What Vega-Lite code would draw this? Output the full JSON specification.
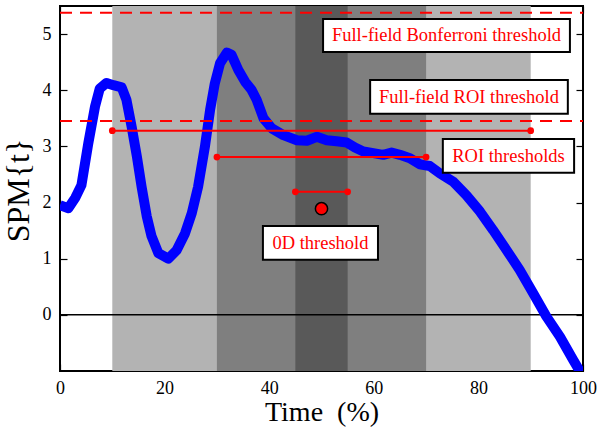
{
  "$schema": "https://vega.github.io/schema/vega-lite/v6.json",
  "width": 523,
  "height": 365,
  "autosize": "none",
  "padding": {"left": 60, "top": 6, "right": 17, "bottom": 68},
  "background": "white",
  "config": {
    "view": {"stroke": "black", "strokeWidth": 2},
    "font": "Liberation Serif",
    "axis": {
      "domain": false,
      "grid": false,
      "tickColor": "black",
      "tickSize": -7,
      "tickWidth": 1.2,
      "labelFont": "Liberation Serif",
      "labelFontSize": 18,
      "labelColor": "black",
      "titleFont": "Liberation Serif",
      "titleFontWeight": "normal",
      "titleColor": "black"
    }
  },
  "datasets": {
    "bands": [
      {"start": 10, "end": 90, "shade": "outer"},
      {"start": 30, "end": 70, "shade": "middle"},
      {"start": 45, "end": 55, "shade": "inner"}
    ],
    "curve": [
      {"time": 0, "spm": 1.95},
      {"time": 1.6, "spm": 1.9},
      {"time": 2.9, "spm": 2.08},
      {"time": 4.1, "spm": 2.31},
      {"time": 5.4, "spm": 3.05},
      {"time": 6.7, "spm": 3.71},
      {"time": 7.6, "spm": 4.03},
      {"time": 8.9, "spm": 4.13},
      {"time": 10.2, "spm": 4.09},
      {"time": 11.8, "spm": 4.05},
      {"time": 12.7, "spm": 3.83},
      {"time": 13.7, "spm": 3.35},
      {"time": 14.7, "spm": 2.82},
      {"time": 15.6, "spm": 2.28},
      {"time": 16.6, "spm": 1.75},
      {"time": 17.5, "spm": 1.4},
      {"time": 18.8, "spm": 1.1},
      {"time": 20.7, "spm": 1.0},
      {"time": 22.3, "spm": 1.15},
      {"time": 23.9, "spm": 1.45},
      {"time": 25.2, "spm": 1.81},
      {"time": 26.4, "spm": 2.28},
      {"time": 27.7, "spm": 2.99},
      {"time": 28.7, "spm": 3.65},
      {"time": 29.6, "spm": 4.12},
      {"time": 30.6, "spm": 4.48},
      {"time": 31.9, "spm": 4.67},
      {"time": 32.8, "spm": 4.63},
      {"time": 34.1, "spm": 4.36},
      {"time": 35.4, "spm": 4.15},
      {"time": 36.6, "spm": 4.01},
      {"time": 37.6, "spm": 3.83},
      {"time": 38.9, "spm": 3.5},
      {"time": 40.5, "spm": 3.32},
      {"time": 42.7, "spm": 3.2},
      {"time": 45.3, "spm": 3.11},
      {"time": 47.2, "spm": 3.1},
      {"time": 49.1, "spm": 3.17},
      {"time": 51.0, "spm": 3.11},
      {"time": 52.9, "spm": 3.09},
      {"time": 54.8, "spm": 3.07},
      {"time": 56.4, "spm": 2.98},
      {"time": 58.0, "spm": 2.91},
      {"time": 59.9, "spm": 2.88},
      {"time": 61.8, "spm": 2.85},
      {"time": 63.4, "spm": 2.89},
      {"time": 65.0, "spm": 2.85},
      {"time": 66.9, "spm": 2.79},
      {"time": 68.8, "spm": 2.68},
      {"time": 70.7, "spm": 2.65},
      {"time": 72.6, "spm": 2.52},
      {"time": 75.2, "spm": 2.37},
      {"time": 77.7, "spm": 2.13},
      {"time": 80.3, "spm": 1.84},
      {"time": 82.8, "spm": 1.51},
      {"time": 85.4, "spm": 1.15},
      {"time": 87.9, "spm": 0.8},
      {"time": 90.5, "spm": 0.38},
      {"time": 93.0, "spm": -0.03},
      {"time": 95.6, "spm": -0.39},
      {"time": 98.1, "spm": -0.8},
      {"time": 100, "spm": -1.1}
    ],
    "fullfield": [
      {"level": 5.38, "name": "Bonferroni"},
      {"level": 3.45, "name": "ROI"}
    ],
    "segments": [
      {"start": 10, "end": 90, "level": 3.28},
      {"start": 30, "end": 70, "level": 2.81},
      {"start": 45, "end": 55, "level": 2.19}
    ],
    "marker": [{"time": 50, "spm": 1.89}],
    "labels": [
      {"text": "Full-field Bonferroni threshold", "left": 50.3, "right": 97.5, "top": 5.27, "bottom": 4.68, "cx": 73.9, "cy": 4.975},
      {"text": "Full-field ROI threshold", "left": 59.3, "right": 97.1, "top": 4.18, "bottom": 3.58, "cx": 78.2, "cy": 3.88},
      {"text": "ROI thresholds", "left": 73.2, "right": 98.3, "top": 3.13, "bottom": 2.53, "cx": 85.75, "cy": 2.83},
      {"text": "0D threshold", "left": 38.8, "right": 60.8, "top": 1.58, "bottom": 0.98, "cx": 49.8, "cy": 1.28}
    ]
  },
  "resolve": {"axis": {"x": "independent", "y": "independent"}},
  "layer": [
    {
      "data": {"name": "bands"},
      "mark": {"type": "rect"},
      "encoding": {
        "x": {"field": "start", "type": "quantitative", "scale": {"domain": [0, 100], "nice": false, "zero": false},
          "axis": {"values": [0, 20, 40, 60, 80, 100], "title": "Time\u00a0\u00a0(%)", "titleFontSize": 28, "labelPadding": 15, "labelFlush": false,
            "labelFont": "Liberation Serif", "labelFontSize": 18,
            "titleX": 261.5, "titleY": 41, "titleBaseline": "middle", "titleAlign": "center"}},
        "x2": {"field": "end"},
        "y": {"datum": -1, "type": "quantitative", "scale": {"domain": [-1, 5.5], "nice": false, "zero": false},
          "axis": {"values": [0, 1, 2, 3, 4, 5], "title": "SPM{t}", "titleFontSize": 32, "labelPadding": 16,
            "labelFont": "Liberation Serif", "labelFontSize": 18,
            "titleX": -42, "titleY": 184, "titleBaseline": "middle", "titleAlign": "center", "titleAngle": -90}},
        "y2": {"datum": 5.5},
        "color": {"field": "shade", "type": "nominal", "legend": null,
          "scale": {"domain": ["outer", "middle", "inner"], "range": ["#b3b3b3", "#7f7f7f", "#595959"]}}
      }
    },
    {
      "data": {"values": [{"level": 0}]},
      "mark": {"type": "rule", "color": "black", "strokeWidth": 1.5},
      "encoding": {
        "y": {"field": "level", "type": "quantitative", "axis": {"orient": "right", "values": [0, 1, 2, 3, 4, 5], "labels": false, "title": null}},
        "x": {"datum": 0, "type": "quantitative", "axis": {"orient": "top", "values": [0, 20, 40, 60, 80, 100], "labels": false, "title": null}},
        "x2": {"datum": 100}
      }
    },
    {
      "data": {"name": "curve"},
      "mark": {"type": "line", "color": "#0000ff", "strokeWidth": 10, "clip": true, "strokeJoin": "round", "strokeCap": "butt"},
      "encoding": {
        "x": {"field": "time", "type": "quantitative", "axis": null},
        "y": {"field": "spm", "type": "quantitative", "axis": null}
      }
    },
    {
      "data": {"name": "fullfield"},
      "mark": {"type": "rule", "color": "#ff0000", "strokeWidth": 2, "strokeDash": [12, 8]},
      "encoding": {
        "y": {"field": "level", "type": "quantitative", "axis": null},
        "x": {"datum": 0, "type": "quantitative", "axis": null},
        "x2": {"datum": 100}
      }
    },
    {
      "data": {"name": "segments"},
      "mark": {"type": "rule", "color": "#ff0000", "strokeWidth": 2},
      "encoding": {
        "x": {"field": "start", "type": "quantitative", "axis": null},
        "x2": {"field": "end"},
        "y": {"field": "level", "type": "quantitative", "axis": null}
      }
    },
    {
      "data": {"name": "segments"},
      "transform": [{"fold": ["start", "end"], "as": ["side", "pos"]}],
      "mark": {"type": "circle", "color": "#ff0000", "opacity": 1, "size": 45},
      "encoding": {
        "x": {"field": "pos", "type": "quantitative", "axis": null},
        "y": {"field": "level", "type": "quantitative", "axis": null}
      }
    },
    {
      "data": {"name": "marker"},
      "mark": {"type": "circle", "fill": "#ff0000", "stroke": "black", "strokeWidth": 1.5, "opacity": 1, "size": 150},
      "encoding": {
        "x": {"field": "time", "type": "quantitative", "axis": null},
        "y": {"field": "spm", "type": "quantitative", "axis": null}
      }
    },
    {
      "data": {"name": "labels"},
      "mark": {"type": "rect", "fill": "white", "stroke": "black", "strokeWidth": 2},
      "encoding": {
        "x": {"field": "left", "type": "quantitative", "axis": null},
        "x2": {"field": "right"},
        "y": {"field": "top", "type": "quantitative", "axis": null},
        "y2": {"field": "bottom"}
      }
    },
    {
      "data": {"name": "labels"},
      "mark": {"type": "text", "color": "#ff0000", "font": "Liberation Serif", "fontSize": 18.5, "align": "center", "baseline": "middle"},
      "encoding": {
        "x": {"field": "cx", "type": "quantitative", "axis": null},
        "y": {"field": "cy", "type": "quantitative", "axis": null},
        "text": {"field": "text"}
      }
    }
  ]
}
